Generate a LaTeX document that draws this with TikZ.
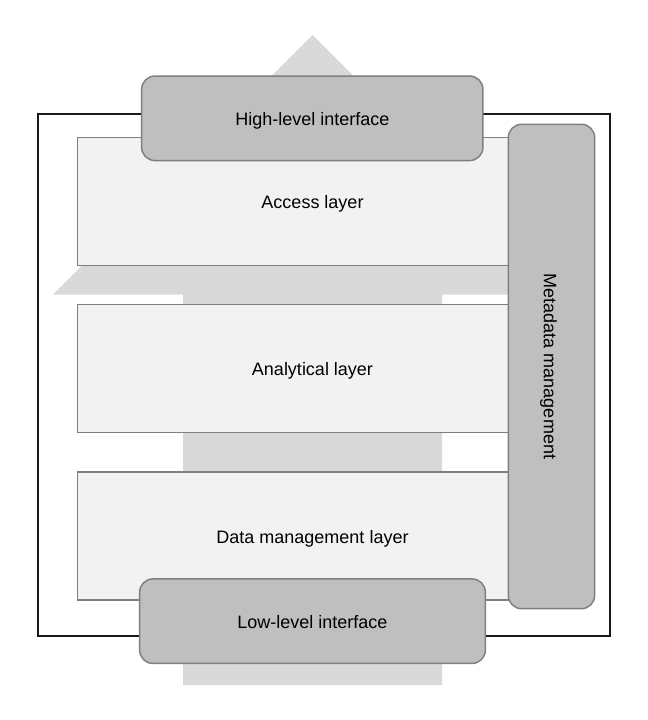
\documentclass[tikz,border=0pt]{standalone}
\usepackage{fontspec}
\setmainfont{Liberation Sans}
\usepackage{xcolor}
\usetikzlibrary{positioning}
\definecolor{ArrowGray}{HTML}{D9D9D9}
\definecolor{LayerFill}{HTML}{F2F2F2}
\definecolor{IfaceFill}{HTML}{BFBFBF}
\definecolor{EdgeGray}{HTML}{7F7F7F}
\definecolor{FrameInk}{HTML}{1A1A1A}

\tikzset{
  boxtext/.style={font=\fontsize{13.5}{16}\selectfont,
    text height=12pt, text depth=0.6pt},
  layerbox/.style={draw=EdgeGray, fill=LayerFill, line width=1.1pt,
    minimum width=352.5pt, minimum height=96pt, inner sep=0pt, boxtext},
  ifacebox/.style={draw=EdgeGray, fill=IfaceFill, line width=1.1pt,
    rounded corners=10pt, minimum height=63.4pt, inner sep=0pt, boxtext},
}

\begin{document}
\begin{tikzpicture}[x=0.75pt,y=-0.75pt]
\useasboundingbox (0,0) rectangle (648,720);

\path
 (312.5,35)  coordinate (Tip)
 (53,294.5)  coordinate (HeadL)
 (572,294.5) coordinate (HeadR)
 (183,294.5) coordinate (ShaftTL)
 (442,294.5) coordinate (ShaftTR)
 (183,685)   coordinate (ShaftBL)
 (442,685)   coordinate (ShaftBR)
 (38,114)    coordinate (FrameTL)
 (610,636)   coordinate (FrameBR)
;

% big upward arrow behind everything
\fill[ArrowGray]
   (Tip) -- (HeadR)
         -- (ShaftTR)
         -- (ShaftBR)
         -- (ShaftBL)
         -- (ShaftTL)
         -- (HeadL) -- cycle
;

\draw[FrameInk, line width=1.4pt] (FrameTL) rectangle (FrameBR);

\node[layerbox] (access)   at (312.5,201.3) {Access layer};
\node[layerbox] (analytic) at (312.5,368.3) {Analytical layer};
\node[layerbox] (datamgmt) at (312.5,536)   {Data management layer};

\node[ifacebox, rotate=-90, minimum width=363.3pt, minimum height=64.8pt] (meta) at (551.5,366.5) {Metadata management};

\node[ifacebox, minimum width=256pt]   (highif) at (312.3,118.3) {High-level interface};
\node[ifacebox, minimum width=259.3pt] (lowif)  at (312.5,621.2) {Low-level interface};
\end{tikzpicture}
\end{document}
